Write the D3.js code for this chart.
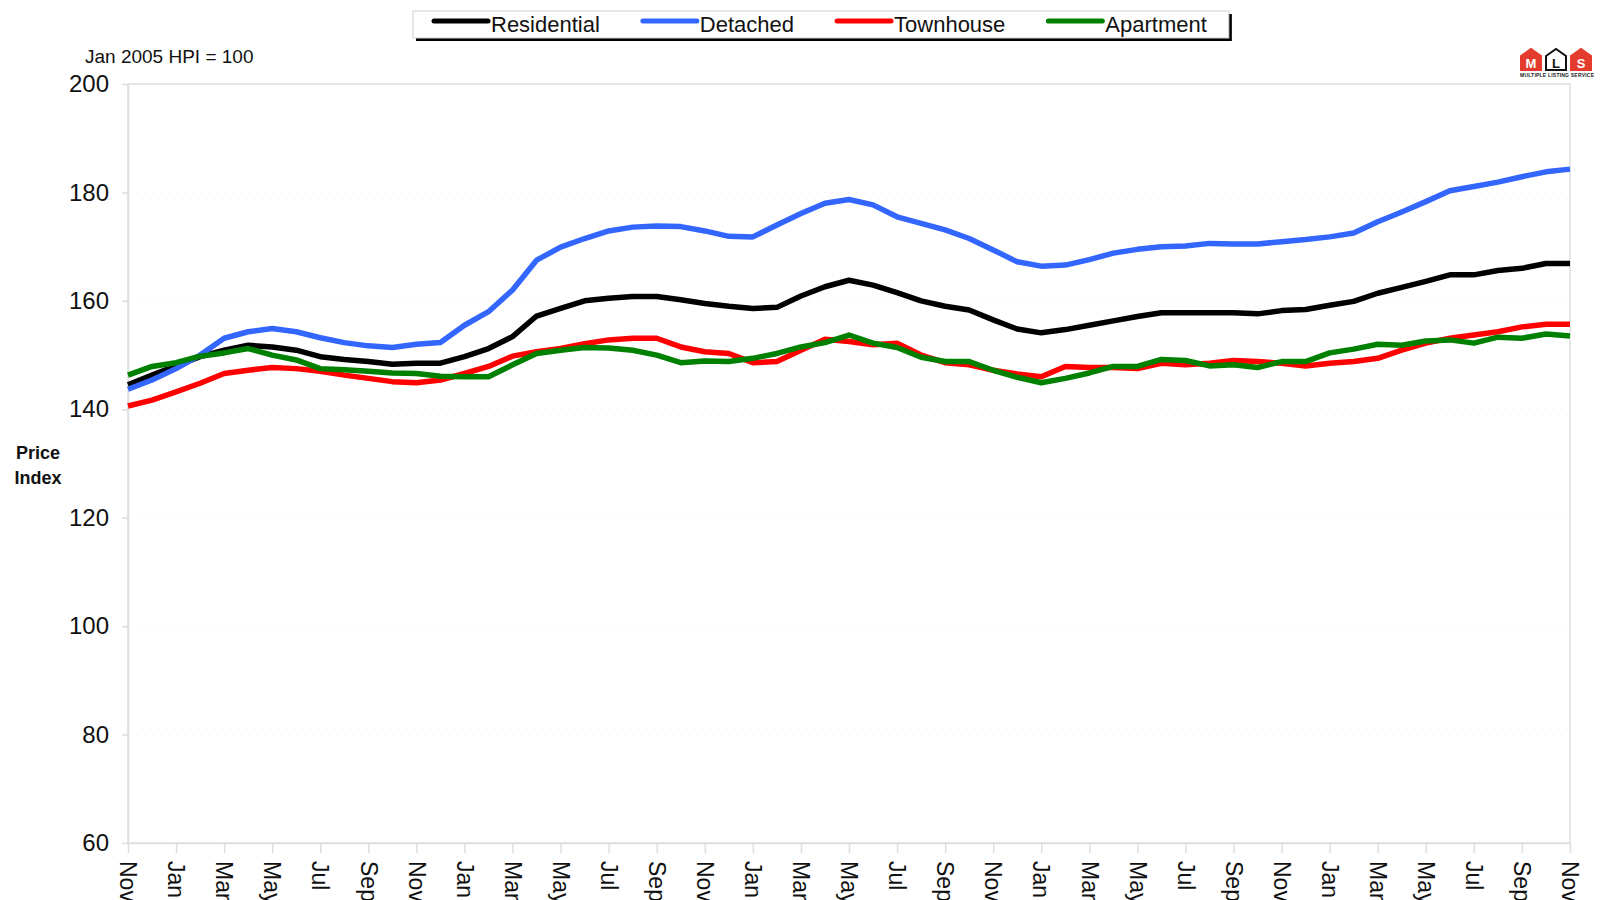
<!DOCTYPE html>
<html>
<head>
<meta charset="utf-8">
<script src="https://cdn.jsdelivr.net/npm/d3@7"></script>
<style>
  body { margin: 0; background: #fff; }
  svg { display: block; font-family: "Liberation Sans", Arial, sans-serif; }
</style>
</head>
<body>
<script>
//-----------------Data----------------
const seriesNames = ["Residential", "Detached", "Townhouse", "Apartment"];

const tickLabels = [
  "Nov", "Jan", "Mar", "May", "Jul", "Sep",
  "Nov", "Jan", "Mar", "May", "Jul", "Sep",
  "Nov", "Jan", "Mar", "May", "Jul", "Sep",
  "Nov", "Jan", "Mar", "May", "Jul", "Sep",
  "Nov", "Jan", "Mar", "May", "Jul", "Sep",
  "Nov",
];

const yTicks = [60, 80, 100, 120, 140, 160, 180, 200];

const residential = [
  144.5, 146.3, 148.0, 149.7, 150.9, 151.8, 151.5, 150.9, 149.7, 149.2, 148.8, 148.3,
  148.5, 148.5, 149.7, 151.2, 153.4, 157.2, 158.6, 160.0, 160.5, 160.8, 160.8, 160.2,
  159.5, 159.0, 158.6, 158.8, 160.9, 162.6, 163.8, 162.9, 161.5, 160.0, 159.0, 158.3,
  156.5, 154.8, 154.1, 154.7, 155.5, 156.3, 157.1, 157.8, 157.8, 157.8, 157.8, 157.6,
  158.2, 158.4, 159.2, 159.9, 161.4, 162.5, 163.6, 164.8, 164.8, 165.6, 166.0, 166.9,
  166.9,
];

const detached = [
  143.7, 145.4, 147.5, 150.0, 153.1, 154.3, 154.9, 154.3, 153.2, 152.3, 151.7, 151.4,
  152.0, 152.3, 155.5, 158.0, 162.0, 167.5, 169.9, 171.5, 172.9, 173.6, 173.8, 173.7,
  172.9, 171.9, 171.8, 174.0, 176.1, 178.0, 178.7, 177.7, 175.5, 174.3, 173.1, 171.5,
  169.4, 167.2, 166.4, 166.6, 167.6, 168.8, 169.5, 170.0, 170.1, 170.6, 170.5, 170.5,
  170.9, 171.3, 171.8, 172.5, 174.6, 176.4, 178.3, 180.3, 181.1, 181.9, 182.9, 183.8,
  184.3,
];

const townhouse = [
  140.6, 141.7, 143.2, 144.8, 146.6, 147.2, 147.7, 147.5, 147.0, 146.3, 145.7, 145.1,
  144.9, 145.4, 146.6, 147.9, 149.8, 150.6, 151.2, 152.1, 152.8, 153.1, 153.1, 151.5,
  150.6, 150.3, 148.6, 148.8, 150.9, 152.9, 152.5, 151.9, 152.2, 150.0, 148.6, 148.2,
  147.2, 146.5, 146.0, 147.9, 147.7, 147.7, 147.5, 148.5, 148.2, 148.5, 149.0, 148.8,
  148.5, 148.0, 148.5, 148.8, 149.4, 150.9, 152.2, 153.1, 153.7, 154.3, 155.2, 155.7,
  155.7,
];

const apartment = [
  146.3, 147.9, 148.6, 149.8, 150.4, 151.2, 150.0, 149.1, 147.5, 147.3, 147.0, 146.7,
  146.6, 146.1, 146.0, 146.0, 148.2, 150.3, 150.9, 151.4, 151.3, 150.9, 150.0, 148.6,
  148.9, 148.8, 149.4, 150.3, 151.5, 152.3, 153.7, 152.2, 151.4, 149.6, 148.8, 148.8,
  147.2, 145.9, 144.9, 145.7, 146.7, 147.9, 147.9, 149.2, 149.0, 148.0, 148.2, 147.7,
  148.8, 148.8, 150.4, 151.1, 152.0, 151.8, 152.6, 152.8, 152.2, 153.3, 153.1, 153.9,
  153.5,
];

const seriesValues = [residential, detached, townhouse, apartment];
const seriesColors = ["#000000", "#3366ff", "#ff0000", "#008000"];

//-----------------Svg----------------
const width = 1600;
const height = 900;
const margin = { top: 84, right: 30, bottom: 57, left: 128 };

const svg = d3.select("body").append("svg").attr("width", width).attr("height", height);

const x = d3
  .scaleLinear()
  .domain([0, residential.length - 1])
  .range([margin.left, width - margin.right]);

const y = d3
  .scaleLinear()
  .domain([60, 200])
  .range([height - margin.bottom, margin.top]);

//-----------------Grid & frame----------------
svg
  .append("g")
  .selectAll("line")
  .data(yTicks.slice(1, -1))
  .enter()
  .append("line")
  .attr("x1", margin.left)
  .attr("x2", width - margin.right)
  .attr("y1", (d) => y(d))
  .attr("y2", (d) => y(d))
  .attr("stroke", "#f0f0f0")
  .attr("stroke-dasharray", "2,6");

svg
  .append("rect")
  .attr("x", margin.left)
  .attr("y", margin.top)
  .attr("width", width - margin.left - margin.right)
  .attr("height", height - margin.top - margin.bottom)
  .attr("fill", "none")
  .attr("stroke", "#dedede")
  .attr("stroke-width", 1.5);

//-----------------Axes----------------
const yAxis = svg
  .append("g")
  .attr("transform", `translate(${margin.left},0)`)
  .call(d3.axisLeft(y).tickValues(yTicks).tickSize(6).tickSizeOuter(0).tickPadding(13));

yAxis.select(".domain").attr("stroke", "#dedede").attr("stroke-width", 1.5);
yAxis.selectAll(".tick line").attr("stroke", "#dedede").attr("stroke-width", 1.5);
yAxis.selectAll(".tick text").attr("font-size", 24).attr("fill", "#111").attr("font-family", "Liberation Sans, Arial, sans-serif");

const xAxis = svg
  .append("g")
  .attr("transform", `translate(0,${height - margin.bottom})`)
  .call(
    d3
      .axisBottom(x)
      .tickValues(d3.range(0, residential.length, 2))
      .tickFormat((d, i) => tickLabels[i])
      .tickSize(10)
      .tickSizeOuter(0)
  );

xAxis.select(".domain").attr("stroke", "#dedede").attr("stroke-width", 1.5);
xAxis.selectAll(".tick line").attr("stroke", "#dedede").attr("stroke-width", 1.5);
xAxis
  .selectAll(".tick text")
  .attr("transform", "rotate(90)")
  .attr("x", 18)
  .attr("y", 0)
  .attr("dy", "0.36em")
  .style("text-anchor", "start")
  .attr("font-size", 23)
  .attr("fill", "#111")
  .attr("font-family", "Liberation Sans, Arial, sans-serif");

//-----------------Lines----------------
const line = d3
  .line()
  .x((d, i) => x(i))
  .y((d) => y(d));

svg
  .append("g")
  .selectAll("path")
  .data(seriesValues)
  .enter()
  .append("path")
  .attr("d", (d) => line(d))
  .attr("fill", "none")
  .attr("stroke", (d, i) => seriesColors[i])
  .attr("stroke-width", 5.5)
  .attr("stroke-linejoin", "round");

//-----------------Labels----------------
svg.append("text").attr("x", 85).attr("y", 63).attr("font-size", 19).attr("fill", "#111").text("Jan 2005 HPI = 100");

svg
  .append("text")
  .attr("text-anchor", "middle")
  .attr("font-size", 18)
  .attr("font-weight", "bold")
  .attr("fill", "#111")
  .selectAll("tspan")
  .data(["Price", "Index"])
  .enter()
  .append("tspan")
  .attr("x", 38)
  .attr("y", (d, i) => 459 + i * 25)
  .text((d) => d);

//-----------------Legend----------------
const legendX = 413;
const legendY = 11;
const legend = svg.append("g");
const shadow = legend.append("rect").attr("fill", "#000");
const box = legend.append("rect").attr("fill", "#fff").attr("stroke", "#d0d0d0");

let cursor = legendX + 21;
seriesNames.forEach((name, i) => {
  legend
    .append("line")
    .attr("x1", cursor)
    .attr("x2", cursor + 54)
    .attr("y1", legendY + 10)
    .attr("y2", legendY + 10)
    .attr("stroke", seriesColors[i])
    .attr("stroke-width", 5)
    .attr("stroke-linecap", "round");
  const t = legend
    .append("text")
    .attr("x", cursor + 57)
    .attr("y", legendY + 21)
    .attr("font-size", 22)
    .attr("fill", "#111")
    .text(name);
  cursor += 57 + t.node().getComputedTextLength() + 43;
});
const legendW = cursor - 43 + 22 - legendX;
box.attr("x", legendX).attr("y", legendY).attr("width", legendW).attr("height", 27);
shadow.attr("x", legendX + 3).attr("y", legendY + 3).attr("width", legendW).attr("height", 27);

//-----------------Logo----------------
const logo = svg.append("g").attr("transform", "translate(1520,48)");
const houses = [
  { letter: "M", fill: "#e33b2e", color: "#fff" },
  { letter: "L", fill: "#fff", color: "#111" },
  { letter: "S", fill: "#e33b2e", color: "#fff" },
];
houses.forEach((h, i) => {
  const g = logo.append("g").attr("transform", `translate(${i * 25},0)`);
  g.append("path")
    .attr("d", "M1,8 L11,1 L21,8 L21,22 L1,22 Z")
    .attr("fill", h.fill)
    .attr("stroke", h.fill === "#fff" ? "#111" : h.fill)
    .attr("stroke-width", 2);
  g.append("text")
    .attr("x", 11)
    .attr("y", 20)
    .attr("text-anchor", "middle")
    .attr("font-size", 13)
    .attr("font-weight", "bold")
    .attr("fill", h.color)
    .text(h.letter);
});
logo
  .append("text")
  .attr("x", 0)
  .attr("y", 29)
  .attr("font-size", 5)
  .attr("font-weight", "bold")
  .attr("fill", "#222")
  .attr("textLength", 74)
  .text("MULTIPLE LISTING SERVICE");
</script>
</body>
</html>
